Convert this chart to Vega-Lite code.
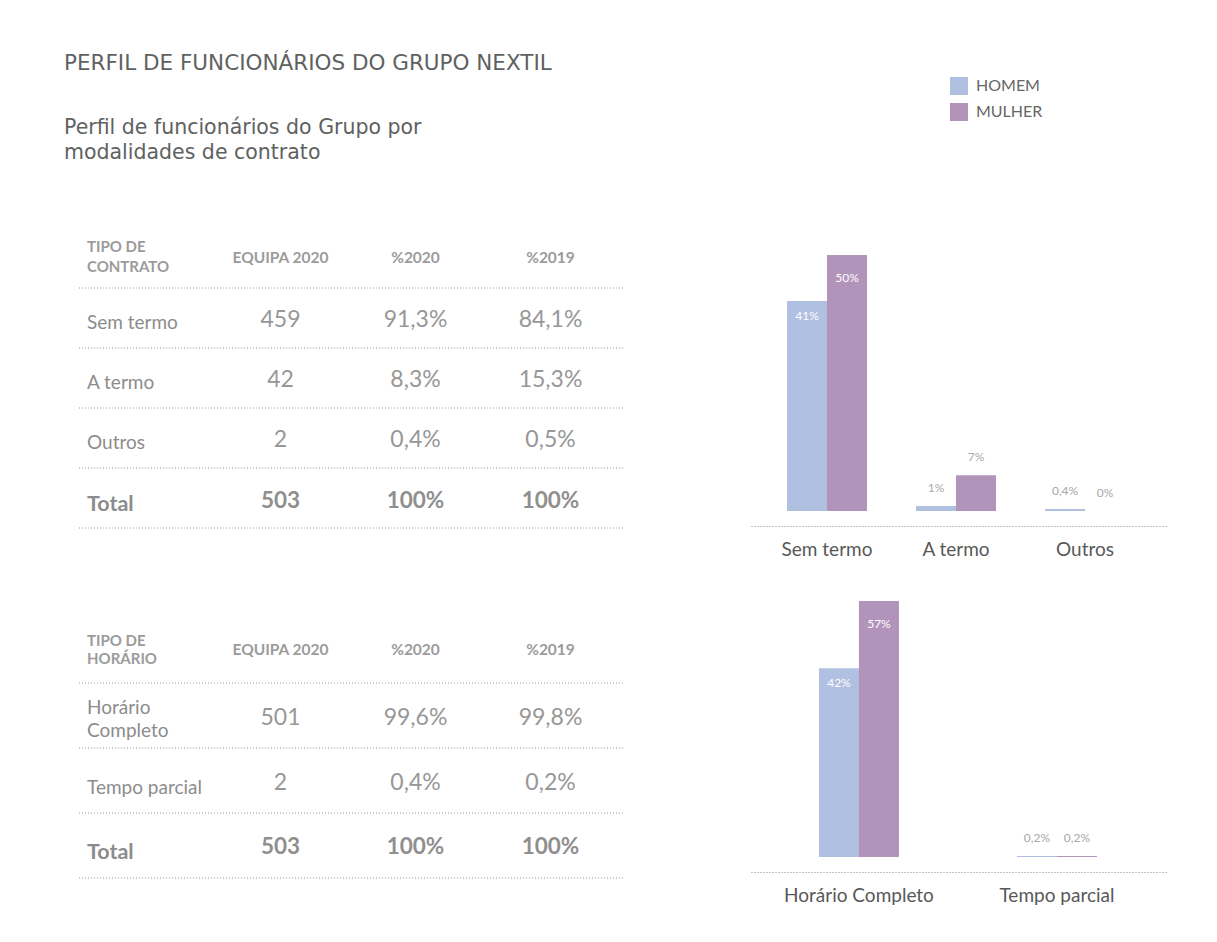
{
  "$schema": "https://vega.github.io/schema/vega-lite/v6.json",
  "background": "white",
  "padding": {"left": 64, "top": 52, "right": 10, "bottom": 10},
  "config": {
    "font": "Lato",
    "view": {"stroke": null},
    "text": {"font": "Lato"},
    "title": {"font": "Lato"}
  },
  "datasets": {
    "contrato": [
      {"row": 0, "item": "header", "column": "TIPO", "text": "TIPO DE\nCONTRATO"},
      {"row": 0, "item": "header", "column": "EQUIPA 2020", "text": "EQUIPA 2020"},
      {"row": 0, "item": "header", "column": "%2020", "text": "%2020"},
      {"row": 0, "item": "header", "column": "%2019", "text": "%2019"},
      {"row": 1, "item": "Sem termo", "column": "TIPO", "text": "Sem termo"},
      {"row": 1, "item": "Sem termo", "column": "EQUIPA 2020", "text": "459"},
      {"row": 1, "item": "Sem termo", "column": "%2020", "text": "91,3%"},
      {"row": 1, "item": "Sem termo", "column": "%2019", "text": "84,1%"},
      {"row": 2, "item": "A termo", "column": "TIPO", "text": "A termo"},
      {"row": 2, "item": "A termo", "column": "EQUIPA 2020", "text": "42"},
      {"row": 2, "item": "A termo", "column": "%2020", "text": "8,3%"},
      {"row": 2, "item": "A termo", "column": "%2019", "text": "15,3%"},
      {"row": 3, "item": "Outros", "column": "TIPO", "text": "Outros"},
      {"row": 3, "item": "Outros", "column": "EQUIPA 2020", "text": "2"},
      {"row": 3, "item": "Outros", "column": "%2020", "text": "0,4%"},
      {"row": 3, "item": "Outros", "column": "%2019", "text": "0,5%"},
      {"row": 4, "item": "Total", "column": "TIPO", "text": "Total"},
      {"row": 4, "item": "Total", "column": "EQUIPA 2020", "text": "503"},
      {"row": 4, "item": "Total", "column": "%2020", "text": "100%"},
      {"row": 4, "item": "Total", "column": "%2019", "text": "100%"}
    ],
    "horario": [
      {"row": 0, "item": "header", "column": "TIPO", "text": "TIPO DE\nHORÁRIO"},
      {"row": 0, "item": "header", "column": "EQUIPA 2020", "text": "EQUIPA 2020"},
      {"row": 0, "item": "header", "column": "%2020", "text": "%2020"},
      {"row": 0, "item": "header", "column": "%2019", "text": "%2019"},
      {"row": 1, "item": "Horário Completo", "column": "TIPO", "text": "Horário\nCompleto"},
      {"row": 1, "item": "Horário Completo", "column": "EQUIPA 2020", "text": "501"},
      {"row": 1, "item": "Horário Completo", "column": "%2020", "text": "99,6%"},
      {"row": 1, "item": "Horário Completo", "column": "%2019", "text": "99,8%"},
      {"row": 2, "item": "Tempo parcial", "column": "TIPO", "text": "Tempo parcial"},
      {"row": 2, "item": "Tempo parcial", "column": "EQUIPA 2020", "text": "2"},
      {"row": 2, "item": "Tempo parcial", "column": "%2020", "text": "0,4%"},
      {"row": 2, "item": "Tempo parcial", "column": "%2019", "text": "0,2%"},
      {"row": 3, "item": "Total", "column": "TIPO", "text": "Total"},
      {"row": 3, "item": "Total", "column": "EQUIPA 2020", "text": "503"},
      {"row": 3, "item": "Total", "column": "%2020", "text": "100%"},
      {"row": 3, "item": "Total", "column": "%2019", "text": "100%"}
    ],
    "barsContrato": [
      {"cat": "Sem termo", "sex": "HOMEM", "value": 41, "label": "41%"},
      {"cat": "Sem termo", "sex": "MULHER", "value": 50, "label": "50%"},
      {"cat": "A termo", "sex": "HOMEM", "value": 1, "label": "1%"},
      {"cat": "A termo", "sex": "MULHER", "value": 7, "label": "7%"},
      {"cat": "Outros", "sex": "HOMEM", "value": 0.4, "label": "0,4%"},
      {"cat": "Outros", "sex": "MULHER", "value": 0, "label": "0%"}
    ],
    "barsHorario": [
      {"cat": "Horário Completo", "sex": "HOMEM", "value": 42, "label": "42%"},
      {"cat": "Horário Completo", "sex": "MULHER", "value": 57, "label": "57%"},
      {"cat": "Tempo parcial", "sex": "HOMEM", "value": 0.2, "label": "0,2%"},
      {"cat": "Tempo parcial", "sex": "MULHER", "value": 0.2, "label": "0,2%"}
    ]
  },
  "title": {
    "text": "PERFIL DE FUNCIONÁRIOS DO GRUPO NEXTIL",
    "anchor": "start",
    "font": "DejaVu Sans",
    "fontSize": 21.5,
    "fontWeight": "normal",
    "color": "#5e625f",
    "offset": 3
  },
  "spacing": 127,
  "hconcat": [
    {
      "spacing": 89,
      "vconcat": [
        {
          "title": {
            "text": ["Perfil de funcionários do Grupo por", "modalidades de contrato"],
            "anchor": "start",
            "frame": "group",
            "dx": -14,
            "font": "DejaVu Sans",
            "fontSize": 20.5,
            "fontWeight": "normal",
            "color": "#5e625f",
            "lineHeight": 25,
            "offset": 65
          },
          "width": 545,
          "height": 300,
          "data": {"name": "contrato"},
          "encoding": {
            "x": {"field": "column", "type": "nominal", "axis": null, "scale": {"type": "band", "domain": ["TIPO", "EQUIPA 2020", "%2020", "%2019"], "paddingInner": 0, "paddingOuter": 0.0185, "align": 0}},
            "y": {"field": "row", "type": "ordinal", "axis": null, "bandPosition": 0.5, "scale": {"type": "band", "paddingInner": 0, "paddingOuter": 0}}
          },
          "layer": [
            {
              "transform": [{"filter": "datum.column == 'TIPO'"}],
              "mark": {"type": "rule", "strokeDash": [1, 2], "color": "#9a9a9a", "strokeWidth": 1},
              "encoding": {"x": null, "y": {"field": "row", "type": "ordinal", "bandPosition": 1}}
            },
            {
              "transform": [{"filter": "datum.row == 0 && datum.column == 'TIPO'"}],
              "mark": {"type": "text", "align": "left", "baseline": "middle", "dx": 9, "dy": -11, "fontSize": 15, "fontWeight": "bold", "color": "#9b9b9b", "lineBreak": "\n", "lineHeight": 20},
              "encoding": {"x": {"field": "column", "type": "nominal", "bandPosition": 0}, "text": {"field": "text"}}
            },
            {
              "transform": [{"filter": "datum.row == 0 && datum.column != 'TIPO'"}],
              "mark": {"type": "text", "align": "center", "baseline": "middle", "fontSize": 15.5, "fontWeight": "bold", "color": "#9b9b9b"},
              "encoding": {"x": {"field": "column", "type": "nominal", "bandPosition": 0.5}, "text": {"field": "text"}}
            },
            {
              "transform": [{"filter": "datum.row > 0 && datum.item != 'Total' && datum.column == 'TIPO'"}],
              "mark": {"type": "text", "align": "left", "baseline": "middle", "dx": 9, "dy": 5, "fontSize": 19, "color": "#8c8c8c", "lineBreak": "\n", "lineHeight": 23},
              "encoding": {"x": {"field": "column", "type": "nominal", "bandPosition": 0}, "text": {"field": "text"}}
            },
            {
              "transform": [{"filter": "datum.row > 0 && datum.item != 'Total' && datum.column != 'TIPO'"}],
              "mark": {"type": "text", "align": "center", "baseline": "middle", "dy": 2, "fontSize": 23, "fontWeight": "normal", "color": "#979797"},
              "encoding": {"x": {"field": "column", "type": "nominal", "bandPosition": 0.5}, "text": {"field": "text"}}
            },
            {
              "transform": [{"filter": "datum.item == 'Total' && datum.column == 'TIPO'"}],
              "mark": {"type": "text", "align": "left", "baseline": "middle", "dx": 9, "dy": 7, "fontSize": 21.5, "fontWeight": "bold", "color": "#8c8c8c"},
              "encoding": {"x": {"field": "column", "type": "nominal", "bandPosition": 0}, "text": {"field": "text"}}
            },
            {
              "transform": [{"filter": "datum.item == 'Total' && datum.column != 'TIPO'"}],
              "mark": {"type": "text", "align": "center", "baseline": "middle", "dy": 3, "fontSize": 22.5, "fontWeight": "bold", "color": "#8f8f8f"},
              "encoding": {"x": {"field": "column", "type": "nominal", "bandPosition": 0.5}, "text": {"field": "text"}}
            }
          ]
        },
        {
          "width": 545,
          "height": 260,
          "data": {"name": "horario"},
          "encoding": {
            "x": {"field": "column", "type": "nominal", "axis": null, "scale": {"type": "band", "domain": ["TIPO", "EQUIPA 2020", "%2020", "%2019"], "paddingInner": 0, "paddingOuter": 0.0185, "align": 0}},
            "y": {"field": "row", "type": "ordinal", "axis": null, "bandPosition": 0.5, "scale": {"type": "band", "paddingInner": 0, "paddingOuter": 0}}
          },
          "layer": [
            {
              "transform": [{"filter": "datum.column == 'TIPO'"}],
              "mark": {"type": "rule", "strokeDash": [1, 2], "color": "#9a9a9a", "strokeWidth": 1},
              "encoding": {"x": null, "y": {"field": "row", "type": "ordinal", "bandPosition": 1}}
            },
            {
              "transform": [{"filter": "datum.row == 0 && datum.column == 'TIPO'"}],
              "mark": {"type": "text", "align": "left", "baseline": "middle", "dx": 9, "dy": -10, "fontSize": 15, "fontWeight": "bold", "color": "#9b9b9b", "lineBreak": "\n", "lineHeight": 18},
              "encoding": {"x": {"field": "column", "type": "nominal", "bandPosition": 0}, "text": {"field": "text"}}
            },
            {
              "transform": [{"filter": "datum.row == 0 && datum.column != 'TIPO'"}],
              "mark": {"type": "text", "align": "center", "baseline": "middle", "dy": -1, "fontSize": 15.5, "fontWeight": "bold", "color": "#9b9b9b"},
              "encoding": {"x": {"field": "column", "type": "nominal", "bandPosition": 0.5}, "text": {"field": "text"}}
            },
            {
              "transform": [{"filter": "datum.row > 0 && datum.item != 'Total' && datum.column == 'TIPO' && indexof(datum.text, '\\n') >= 0"}],
              "mark": {"type": "text", "align": "left", "baseline": "middle", "dx": 9, "dy": -8, "fontSize": 19, "color": "#8c8c8c", "lineBreak": "\n", "lineHeight": 23},
              "encoding": {"x": {"field": "column", "type": "nominal", "bandPosition": 0}, "text": {"field": "text"}}
            },
            {
              "transform": [{"filter": "datum.row > 0 && datum.item != 'Total' && datum.column == 'TIPO' && indexof(datum.text, '\\n') < 0"}],
              "mark": {"type": "text", "align": "left", "baseline": "middle", "dx": 9, "dy": 7, "fontSize": 19, "color": "#8c8c8c"},
              "encoding": {"x": {"field": "column", "type": "nominal", "bandPosition": 0}, "text": {"field": "text"}}
            },
            {
              "transform": [{"filter": "datum.row > 0 && datum.item != 'Total' && datum.column != 'TIPO'"}],
              "mark": {"type": "text", "align": "center", "baseline": "middle", "dy": 2, "fontSize": 23, "fontWeight": "normal", "color": "#979797"},
              "encoding": {"x": {"field": "column", "type": "nominal", "bandPosition": 0.5}, "text": {"field": "text"}}
            },
            {
              "transform": [{"filter": "datum.item == 'Total' && datum.column == 'TIPO'"}],
              "mark": {"type": "text", "align": "left", "baseline": "middle", "dx": 9, "dy": 7, "fontSize": 21.5, "fontWeight": "bold", "color": "#8c8c8c"},
              "encoding": {"x": {"field": "column", "type": "nominal", "bandPosition": 0}, "text": {"field": "text"}}
            },
            {
              "transform": [{"filter": "datum.item == 'Total' && datum.column != 'TIPO'"}],
              "mark": {"type": "text", "align": "center", "baseline": "middle", "dy": 1, "fontSize": 22.5, "fontWeight": "bold", "color": "#8f8f8f"},
              "encoding": {"x": {"field": "column", "type": "nominal", "bandPosition": 0.5}, "text": {"field": "text"}}
            }
          ]
        }
      ]
    },
    {
      "spacing": 42,
      "vconcat": [
        {
          "width": 417,
          "height": 283,
          "data": {"name": "barsContrato"},
          "encoding": {
            "x": {"field": "cat", "type": "nominal", "sort": ["Sem termo", "A termo", "Outros"], "scale": {"paddingInner": 0.38, "paddingOuter": 0.306, "align": 0.456},
              "axis": {"title": null, "labelAngle": 0, "ticks": false, "domainColor": "#8a8a8a", "domainDash": [1, 2], "domainWidth": 1, "offset": 15, "labelFontSize": 19, "labelColor": "#585858", "labelFont": "Lato", "labelPadding": 14, "labelLimit": 300}},
            "xOffset": {"field": "sex", "type": "nominal", "sort": ["HOMEM", "MULHER"], "scale": {"paddingInner": 0, "paddingOuter": 0}},
            "y": {"field": "value", "type": "quantitative", "scale": {"domain": [0, 55.27], "nice": false}, "axis": null}
          },
          "layer": [
            {
              "mark": {"type": "bar"},
              "encoding": {
                "color": {"field": "sex", "type": "nominal", "scale": {"domain": ["HOMEM", "MULHER"], "range": ["#b0c0e0", "#b294bb"]},
                  "legend": {"orient": "none", "legendX": 872, "legendY": -151, "title": null, "symbolType": "square", "symbolSize": 324, "symbolStrokeWidth": 0, "symbolOpacity": 1, "labelFontSize": 16, "labelColor": "#666666", "labelFont": "Lato", "rowPadding": 8, "labelOffset": 8}}
              }
            },
            {
              "transform": [{"filter": "datum.value >= 10 && datum.sex == 'HOMEM'"}],
              "mark": {"type": "text", "baseline": "middle", "dy": 15, "color": "white", "fontSize": 12},
              "encoding": {"text": {"field": "label"}}
            },
            {
              "transform": [{"filter": "datum.value >= 10 && datum.sex == 'MULHER'"}],
              "mark": {"type": "text", "baseline": "middle", "dy": 23, "color": "white", "fontSize": 12},
              "encoding": {"text": {"field": "label"}}
            },
            {
              "transform": [{"filter": "datum.value < 10"}],
              "mark": {"type": "text", "baseline": "middle", "dy": -18, "color": "#a8a8a8", "fontSize": 12},
              "encoding": {"text": {"field": "label"}}
            }
          ]
        },
        {
          "width": 417,
          "height": 256,
          "data": {"name": "barsHorario"},
          "encoding": {
            "x": {"field": "cat", "type": "nominal", "sort": ["Horário Completo", "Tempo parcial"], "scale": {"paddingInner": 0.596, "paddingOuter": 0.351, "align": 0.489},
              "axis": {"title": null, "labelAngle": 0, "ticks": false, "domainColor": "#8a8a8a", "domainDash": [1, 2], "domainWidth": 1, "offset": 15, "labelFontSize": 19, "labelColor": "#585858", "labelFont": "Lato", "labelPadding": 14, "labelLimit": 300}},
            "xOffset": {"field": "sex", "type": "nominal", "sort": ["HOMEM", "MULHER"], "scale": {"paddingInner": 0, "paddingOuter": 0}},
            "y": {"field": "value", "type": "quantitative", "scale": {"domain": [0, 57], "nice": false}, "axis": null}
          },
          "layer": [
            {
              "mark": {"type": "bar"},
              "encoding": {
                "color": {"field": "sex", "type": "nominal", "scale": {"domain": ["HOMEM", "MULHER"], "range": ["#b0c0e0", "#b294bb"]}}
              }
            },
            {
              "transform": [{"filter": "datum.value >= 10 && datum.sex == 'HOMEM'"}],
              "mark": {"type": "text", "baseline": "middle", "dy": 15, "color": "white", "fontSize": 12},
              "encoding": {"text": {"field": "label"}}
            },
            {
              "transform": [{"filter": "datum.value >= 10 && datum.sex == 'MULHER'"}],
              "mark": {"type": "text", "baseline": "middle", "dy": 23, "color": "white", "fontSize": 12},
              "encoding": {"text": {"field": "label"}}
            },
            {
              "transform": [{"filter": "datum.value < 10"}],
              "mark": {"type": "text", "baseline": "middle", "dy": -18, "color": "#a8a8a8", "fontSize": 12},
              "encoding": {"text": {"field": "label"}}
            }
          ]
        }
      ]
    }
  ]
}
